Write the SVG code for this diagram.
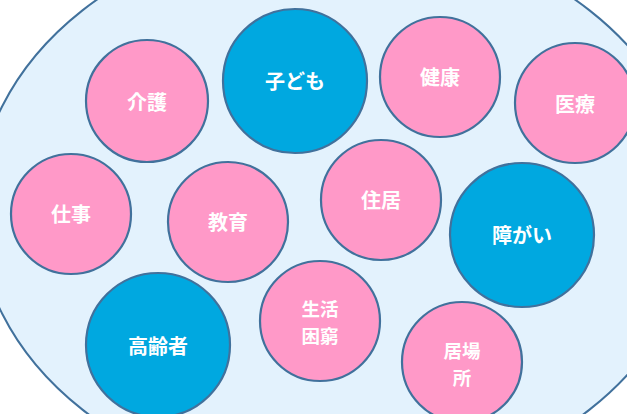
<svg xmlns="http://www.w3.org/2000/svg" width="627" height="414" viewBox="0 0 627 414">
<style>
.bg{fill:#E3F2FD;stroke:#41719C;stroke-width:2}
.p{fill:#FF99C8;stroke:#41719C;stroke-width:2.2}
.b{fill:#00A8E0;stroke:#41719C;stroke-width:2.2}
text{font-family:"Noto Sans CJK JP","Noto Sans",sans-serif;font-size:20px;font-weight:bold;fill:#fff;text-anchor:middle;dominant-baseline:central}
text.two{font-size:18.5px}
</style>
<rect width="627" height="414" fill="#fff"/>
<ellipse class="bg" cx="336" cy="210" rx="359" ry="282"/>
<g id="connectors"/>
<g id="kaigo"><circle class="p" cx="147" cy="101" r="61"/><text x="147" y="101">介護</text></g>
<g id="kodomo"><ellipse class="b" cx="295" cy="81" rx="72" ry="72"/><text x="295" y="80">子ども</text></g>
<g id="kenkou"><circle class="p" cx="440" cy="77" r="60"/><text x="440" y="76">健康</text></g>
<g id="iryou"><circle class="p" cx="575" cy="103" r="60"/><text x="575" y="103">医療</text></g>
<g id="shigoto"><circle class="p" cx="71" cy="214" r="60"/><text x="71" y="213">仕事</text></g>
<g id="kyouiku"><circle class="p" cx="228" cy="222" r="60"/><text x="228" y="221">教育</text></g>
<g id="juukyo"><circle class="p" cx="381" cy="200" r="60"/><text x="381" y="199">住居</text></g>
<g id="shougai"><circle class="b" cx="522" cy="235" r="72"/><text x="522" y="234">障がい</text></g>
<g id="koureisha"><circle class="b" cx="158" cy="345" r="72"/><text x="158" y="345">高齢者</text></g>
<g id="seikatsu"><circle class="p" cx="320" cy="321" r="60"/><text class="two" x="320" y="307.5">生活</text><text class="two" x="320" y="334.5">困窮</text></g>
<g id="ibasho"><circle class="p" cx="462" cy="362" r="60"/><text class="two" x="462" y="349.5">居場</text><text class="two" x="462" y="376.5">所</text></g>
</svg>
